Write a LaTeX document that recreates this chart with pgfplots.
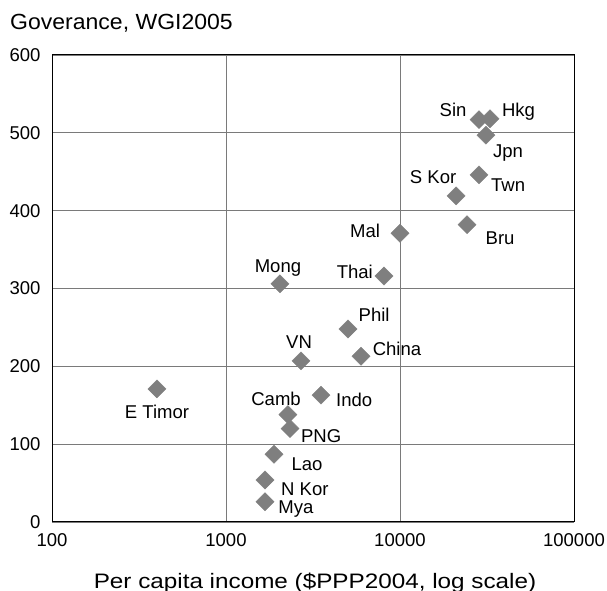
\documentclass[border=0pt]{standalone}
\usepackage{pgfplots}
\pgfplotsset{compat=1.18}
\usepackage{fontspec}
\setmainfont{Liberation Sans}
\newfontfamily\titlefont[FakeStretch=1.05]{Liberation Sans}
\newfontfamily\xlabfont[FakeStretch=1.16]{Liberation Sans}
\definecolor{mk}{HTML}{7F7F7F}
\definecolor{gr}{HTML}{7A7A7A}
\tikzset{lab/.style={font=\fontsize{18.6}{20}\selectfont, anchor=center, text depth=0pt, text height=0.716em, inner sep=0pt, yshift=-3bp}}
\pgfplotstableread{
x y
401 171
2042 306
8090 316
5024 248
2698 207
5970 213
3516 163
2269 138
2333 120
1888 87
1675 54
1675 26
28450 517
32900 518
31200 497
28450 446
21000 419
24270 382
10000 371
}\datatable
\begin{document}
\begin{tikzpicture}
\useasboundingbox (0,0) rectangle (607bp,591bp);
\begin{axis}[
 at={(52bp,69bp)}, anchor=south west,
 scale only axis, width=522bp, height=467bp,
 xmode=log, xmin=100, xmax=100000, ymin=0, ymax=600,
 xtick={100,1000,10000,100000}, xticklabels={100,1000,10000,100000},
 ytick={0,100,...,600},
 minor xtick={}, 
 major tick length=0pt, minor tick length=0pt,
 grid=major, major grid style={gr, line width=0.9bp},
 axis line style={black, line width=1bp},
 tick label style={font=\fontsize{18.6}{20}\selectfont},
 xticklabel style={yshift=-8bp},
 yticklabel style={xshift=-8bp},
 /pgf/number format/assume math mode=true,
 clip=false,
]
\addplot[only marks, mark=square*, mark size=6.4bp, mark options={rotate=45, fill=mk, draw=mk}] table {\datatable};
\node[lab] at (axis cs:20200,530) {Sin};
\node[lab] at (axis cs:48000,530) {Hkg};
\node[lab] at (axis cs:41800,477) {Jpn};
\node[lab] at (axis cs:41800,433) {Twn};
\node[lab] at (axis cs:15500,443) {S Kor};
\node[lab] at (axis cs:37600,365) {Bru};
\node[lab] at (axis cs:6300,374) {Mal};
\node[lab] at (axis cs:5500,321) {Thai};
\node[lab] at (axis cs:1990,329) {Mong};
\node[lab] at (axis cs:7100,266) {Phil};
\node[lab] at (axis cs:2630,231) {VN};
\node[lab] at (axis cs:9610,222) {China};
\node[lab] at (axis cs:5450,157) {Indo};
\node[lab] at (axis cs:1940,158) {Camb};
\node[lab] at (axis cs:3520,111) {PNG};
\node[lab] at (axis cs:2920,75) {Lao};
\node[lab] at (axis cs:2840,42) {N Kor};
\node[lab] at (axis cs:2520,19) {Mya};
\node[lab] at (axis cs:401,141) {E Timor};
\end{axis}
\node[anchor=base west, inner sep=0pt, font=\titlefont\fontsize{22}{24}\selectfont] at (10bp,561bp) {Goverance, WGI2005};
\node[anchor=base, inner sep=0pt, font=\xlabfont\fontsize{21}{24}\selectfont] at (315bp,3bp) {Per capita income (\$PPP2004, log scale)};
\end{tikzpicture}
\end{document}
